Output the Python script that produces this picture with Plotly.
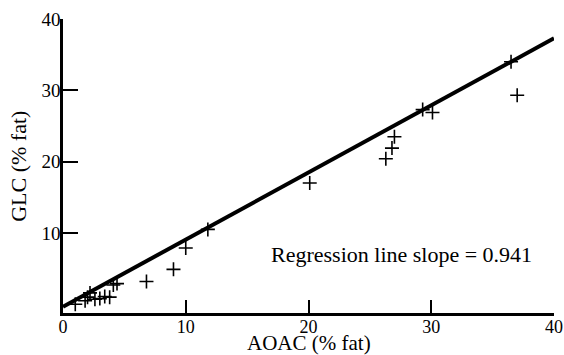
import plotly.graph_objects as go

# Data
aoac = [1.0, 1.8, 2.0, 2.2, 2.6, 3.0, 3.4, 3.8, 4.1, 4.4, 6.8, 9.0, 10.0, 11.8,
        20.1, 26.3, 26.8, 27.0, 29.3, 30.1, 36.5, 37.0]
glc = [0.0, 0.5, 1.0, 1.6, 0.7, 0.8, 1.1, 1.0, 2.7, 2.9, 3.2, 4.9, 7.9, 10.5,
       17.0, 20.4, 21.9, 23.5, 27.3, 26.9, 34.0, 29.3]
reg_x = [0, 40]
reg_y = [-0.34, 37.3]
x_ticks = [0, 10, 20, 30, 40]
y_ticks = [10, 20, 30, 40]
note = "Regression line slope = 0.941"
x_title = "AOAC (% fat)"
y_title = "GLC (% fat)"

serif = "Liberation Serif"

fig = go.Figure()
fig.add_trace(go.Scatter(x=reg_x, y=reg_y, mode="lines",
                         line=dict(color="black", width=4), showlegend=False))
fig.add_trace(go.Scatter(x=aoac, y=glc, mode="markers",
                         marker=dict(symbol="cross-thin", size=10,
                                     line=dict(color="black", width=1.6)),
                         showlegend=False))

fig.add_annotation(x=0.959, y=0.2, xref="paper", yref="paper", text=note,
                   showarrow=False, xanchor="right", yanchor="middle",
                   font=dict(family=serif, size=22, color="black"))
fig.add_annotation(x=0.5, y=-0.103, xref="paper", yref="paper", text=x_title,
                   showarrow=False, xanchor="center", yanchor="middle",
                   font=dict(family=serif, size=21, color="black"))
fig.add_annotation(x=-0.092, y=0.5, xref="paper", yref="paper", text=y_title,
                   showarrow=False, xanchor="center", yanchor="middle",
                   textangle=-90,
                   font=dict(family=serif, size=22, color="black"))

fig.update_layout(
    width=564, height=355,
    margin=dict(l=63, r=10, t=19, b=42, autoexpand=False),
    paper_bgcolor="white", plot_bgcolor="white",
    font=dict(family=serif, color="black", size=18),
    xaxis=dict(range=[0, 40], tickvals=x_ticks, ticks="inside", ticklen=13,
               tickwidth=2, tickcolor="black", showline=True, linecolor="black",
               linewidth=2.5, showgrid=False, zeroline=False, automargin=False,
               ticklabelstandoff=-4, tickfont=dict(size=18)),
    yaxis=dict(range=[-1.22, 40], tickvals=y_ticks, ticks="inside", ticklen=15,
               tickwidth=2, tickcolor="black", showline=True, linecolor="black",
               linewidth=2.5, showgrid=False, zeroline=False, automargin=False,
               ticklabelstandoff=-4, tickfont=dict(size=19)),
)

# remove the page's default body margin so the figure fills the window exactly
fig.write_html("out.html",
               config={"displayModeBar": False},
               post_script="document.body.style.margin='0';"
                           "document.body.style.overflow='hidden';")
